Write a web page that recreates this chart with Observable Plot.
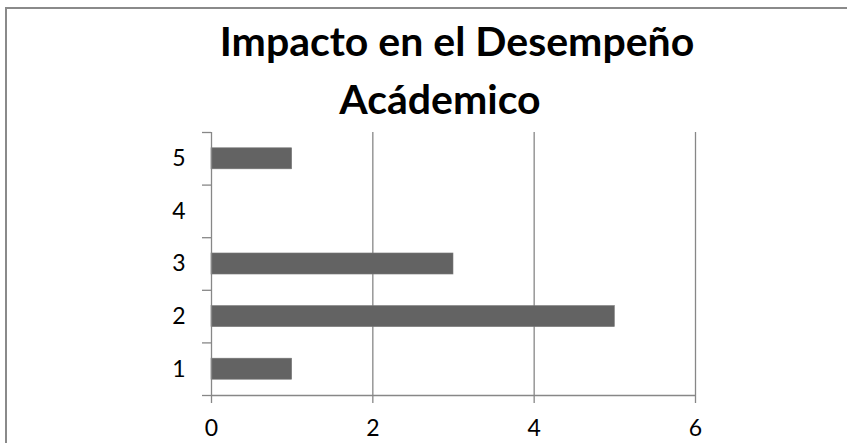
<!DOCTYPE html>
<html>
<head>
<meta charset="utf-8">
<script src="https://cdn.jsdelivr.net/npm/d3@7"></script>
<script src="https://cdn.jsdelivr.net/npm/@observablehq/plot@0.6"></script>
<style>
  html, body { margin: 0; padding: 0; background: #fff; }
  #wrap { position: relative; width: 847px; height: 443px; overflow: hidden; }
  #frame { position: absolute; left: 5px; top: 7px; width: 900px; height: 500px;
           border-left: 2px solid #8a8a8a; border-top: 2px solid #8a8a8a; }
  .title { position: absolute; font-family: Lato, "Open Sans", sans-serif; font-weight: 700;
           font-size: 41px; color: #000; white-space: nowrap; transform: translateX(-50%); line-height: 1; }
  #chart { position: absolute; left: 0; top: 125px; }
</style>
</head>
<body>
<div id="wrap">
  <div id="frame"></div>
  <div class="title" id="t1" style="left:457px; top:20px;">Impacto en el Desempeño</div>
  <div class="title" id="t2" style="left:440px; top:78px;">Acádemico</div>
  <div id="chart"></div>
</div>
<script>
// Responses per rating level (1–5)
const ratings = [1, 2, 3, 4, 5];
const counts = [1, 5, 3, 0, 1];
const xTicks = [0, 2, 4, 6];
const gridValues = [2, 4, 6];
const boundaries = [0.5, 1.5, 2.5, 3.5, 4.5, 5.5];

const rows = ratings.map((r, i) => ({rating: r, count: counts[i]}));

const axisColor = "#878787";
const font = "Lato, 'Open Sans', sans-serif";

const chart = Plot.plot({
  width: 847,
  height: 318,
  marginTop: 7,
  marginBottom: 48,
  marginLeft: 211,
  marginRight: 152,
  style: {fontFamily: font, fontSize: "23px", color: "#000", background: "transparent"},
  x: {domain: [0, 6]},
  y: {domain: [0.5, 5.5]},
  marks: [
    // vertical gridlines
    Plot.ruleX(gridValues, {y1: 0.5, y2: 5.5, stroke: axisColor, strokeWidth: 1.3}),
    // bars
    Plot.rectX(rows, {
      x1: 0, x2: "count",
      y1: d => d.rating - 0.2, y2: d => d.rating + 0.2,
      fill: "#636363", stroke: "#7a7a7a", strokeWidth: 0.6
    }),
    // axis lines
    Plot.ruleX([0], {y1: 0.5, y2: 5.5, stroke: axisColor, strokeWidth: 1.3}),
    Plot.ruleY([0.5], {x1: 0, x2: 6, stroke: axisColor, strokeWidth: 1.3}),
    // y: tick marks at category boundaries, labels at category centres
    Plot.axisY(boundaries, {tickSize: 9, tickFormat: () => "", stroke: axisColor, strokeWidth: 1.3, label: null}),
    Plot.axisY(ratings, {tickSize: 0, tickPadding: 26, tickFormat: d => String(d), label: null, fill: "#000"}),
    // x axis
    Plot.axisX(xTicks, {tickSize: 8, tickPadding: 16, stroke: axisColor, strokeWidth: 1.3, label: null, fill: "#000"})
  ]
});
document.getElementById("chart").appendChild(chart);
</script>
</body>
</html>
